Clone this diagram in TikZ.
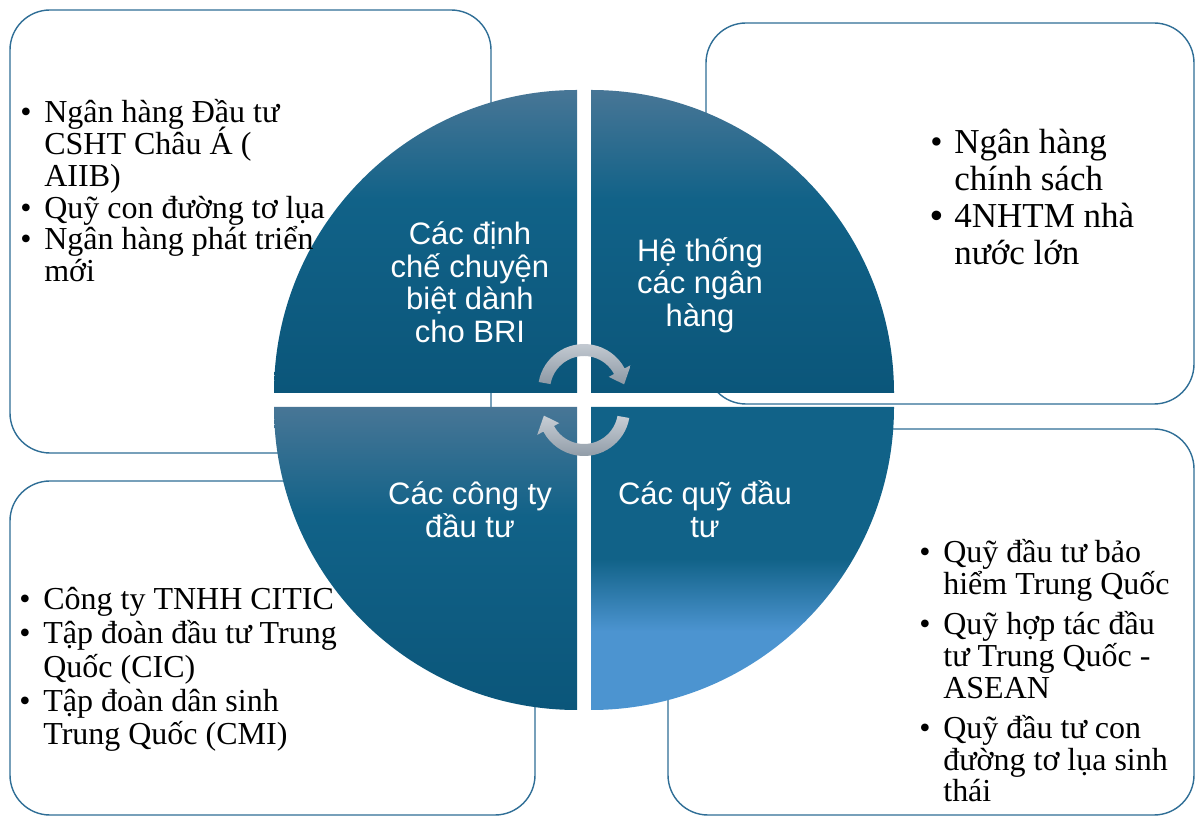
\documentclass[tikz,border=0pt]{standalone}
\usepackage{fontspec}
\setmainfont{Liberation Serif}
\newfontfamily\quadfont{Liberation Sans}

\definecolor{boxline}{RGB}{47,110,150}
\definecolor{qtop}{RGB}{72,118,150}
\definecolor{qmid}{RGB}{17,98,136}
\definecolor{qbot}{RGB}{11,86,122}
\definecolor{qsky}{RGB}{76,148,208}
\definecolor{arrlight}{RGB}{200,206,213}
\definecolor{arrdark}{RGB}{140,152,164}

\pgfdeclareverticalshading{quadcool}{100bp}{color(0bp)=(qbot); color(25bp)=(qbot); color(57bp)=(qmid); color(75bp)=(qtop); color(100bp)=(qtop)}
\pgfdeclareverticalshading{quadsky}{100bp}{color(0bp)=(qsky); color(38bp)=(qsky); color(50bp)=(qmid); color(100bp)=(qmid)}

\newcommand\bul{\makebox[0.48cm][l]{\textbullet}}
\newcommand\bigbul{\makebox[0.48cm][l]{\quadfont •}}
\newcommand\bulind{\hspace*{0.48cm}}
\newcommand\listsize[2]{\fontsize{#1}{#2}\selectfont\lineskiplimit=-\maxdimen}

\tikzset{
  infobox/.style={draw=boxline, line width=0.8pt, rounded corners=0.8cm, fill=white},
  infolist/.style={inner sep=0pt, align=left, anchor=base west},
  quadlabel/.style={text=white, font=\quadfont\listsize{17.64pt}{18.78pt}, align=center, anchor=base, inner sep=0pt},
  cyclearrow/.style={top color=arrlight, bottom color=arrdark, draw=none}
}

\begin{document}
\begin{tikzpicture}[x=0.02cm,y=0.02cm]
\useasboundingbox (0,0) rectangle (1200,818);
\fill[white] (0,0) rectangle (1200,818);

% boxes behind the wheel
\draw[infobox] (10,365) rectangle (491,808);
\draw[infobox] (706,414) rectangle (1194,795);
\draw[infobox] (10,3) rectangle (535,337);
\draw[infobox] (668,3) rectangle (1194,389);

% the four quarters
\shade[shading=quadcool] (577,425) -- (274,425) arc[start angle=180, end angle=90, radius=303] -- cycle;
\shade[shading=quadcool] (591,425) -- (591,728) arc[start angle=90, end angle=0, radius=303] -- cycle;
\shade[shading=quadcool] (577,411) -- (274,411) arc[start angle=180, end angle=270, radius=303] -- cycle;
\shade[shading=quadsky] (591,411) -- (894,411) arc[start angle=0, end angle=-90, radius=303] -- cycle;

% cycle arrows
\begin{scope}[shift={(584,428)}]
\shade[cyclearrow] (170:46) arc[start angle=170, end angle=28, radius=46] -- (28:53) -- (8:40.5) -- (28:28) -- (28:34) arc[start angle=28, end angle=170, radius=34] -- cycle;
\end{scope}
\begin{scope}[shift={(584,408)}]
\shade[cyclearrow] (350:46) arc[start angle=350, end angle=208, radius=46] -- (208:53) -- (188:40.5) -- (208:28) -- (208:34) arc[start angle=208, end angle=350, radius=34] -- cycle;
\end{scope}

% labels sit on the baseline of their last line
\node[quadlabel] (bri) at (470,475) {Các định\\chế chuyện\\biệt dành\\cho BRI};
\node[quadlabel] (banks) at (700,491) {Hệ thống\\các ngân\\hàng};
\node[quadlabel] (companies) at (470,280) {Các công ty\\đầu tư};
\node[quadlabel] (funds) at (705,280) {Các quỹ đầu\\tư};

\node[infolist, font=\listsize{18.21pt}{18.21pt}] (bri-list) at (20,536)
  {\bul Ngân hàng Đầu tư\\\bulind CSHT Châu Á (\\\bulind AIIB)\\\bul Quỹ con đường tơ lụa\\\bul Ngân hàng phát triển\\\bulind mới};
\node[infolist, font=\listsize{19.92pt}{21.06pt}] (banks-list) at (930,553)
  {\bul Ngân hàng\\\bulind chính sách\\\bigbul 4NHTM nhà\\\bulind nước lớn};
\node[infolist, font=\listsize{18.21pt}{19.35pt}] (companies-list) at (19,73)
  {\bul Công ty TNHH CITIC\\\bul Tập đoàn đầu tư Trung\\\bulind Quốc (CIC)\\\bul Tập đoàn dân sinh\\\bulind Trung Quốc (CMI)};
\node[infolist, font=\listsize{18.21pt}{18.21pt}] (funds-list) at (919,16)
  {\bul Quỹ đầu tư bảo\\\bulind hiểm Trung Quốc\\[0.16cm]\bul Quỹ hợp tác đầu\\\bulind tư Trung Quốc -\\\bulind ASEAN\\[0.16cm]\bul Quỹ đầu tư con\\\bulind đường tơ lụa sinh\\\bulind thái};
\end{tikzpicture}
\end{document}
